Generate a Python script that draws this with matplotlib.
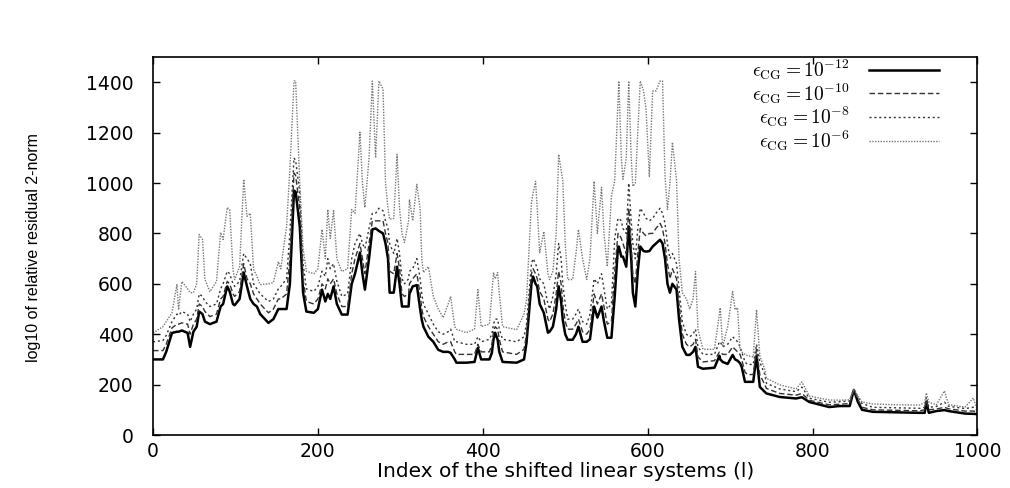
import matplotlib
matplotlib.use("Agg")
import matplotlib.pyplot as plt

# index of the shifted linear system (key points)
idx = [0, 12, 16, 23, 29, 31, 35, 42, 45, 49, 53, 56, 60, 63, 69, 77, 82, 85, 90, 93,
       97, 99, 105, 110, 114, 118, 122, 126, 130, 140, 146, 152, 155, 162, 166, 171, 173, 178, 182, 186,
       195, 200, 205, 209, 212, 215, 219, 223, 229, 236, 241, 245, 251, 254, 257, 262, 266, 270, 274, 279,
       282, 285, 287, 292, 296, 299, 302, 305, 310, 311, 315, 320, 324, 326, 328, 334, 340, 346, 352, 358,
       361, 366, 368, 380, 390, 394, 398, 408, 411, 413, 415, 418, 420, 424, 441, 450, 453, 459, 461, 464,
       466, 469, 474, 479, 481, 485, 489, 492, 495, 497, 500, 503, 509, 513, 516, 521, 526, 530, 535, 539,
       544, 547, 551, 556, 560, 564, 565, 568, 570, 574, 577, 580, 582, 585, 588, 591, 595, 598, 602, 606,
       610, 615, 618, 621, 624, 627, 630, 635, 638, 642, 647, 651, 655, 658, 661, 667, 681, 687, 688, 691,
       697, 703, 706, 709, 712, 714, 718, 721, 728, 732, 736, 742, 744, 760, 780, 787, 796, 820, 833, 845,
       850, 855, 860, 873, 900, 930, 936, 938, 941, 950, 960, 965, 985, 995, 999]

eps12 = [300, 300, 330, 405, 410, 410, 415, 405, 350, 410, 430, 490, 480, 450, 440, 450, 510, 520, 590, 570,
         520, 515, 540, 645, 590, 540, 520, 510, 480, 445, 460, 500, 500, 500, 600, 970, 965, 828, 565, 490,
         485, 500, 577, 530, 560, 540, 590, 520, 478, 478, 600, 640, 724, 640, 577, 700, 816, 820, 810, 800,
         760, 700, 565, 565, 668, 600, 510, 510, 510, 560, 590, 595, 500, 457, 430, 390, 370, 338, 330, 330,
         326, 300, 287, 287, 290, 346, 300, 300, 326, 380, 406, 378, 330, 290, 287, 300, 366, 600, 629, 600,
         590, 520, 485, 406, 410, 430, 500, 590, 530, 457, 400, 378, 378, 400, 430, 370, 370, 380, 510, 466,
         510, 450, 386, 386, 550, 748, 748, 708, 708, 668, 828, 700, 565, 510, 650, 748, 730, 728, 730, 748,
         760, 775, 760, 700, 600, 565, 600, 577, 460, 350, 318, 318, 330, 350, 271, 263, 267, 315, 300, 290,
         282, 318, 300, 295, 285, 271, 211, 211, 211, 315, 191, 171, 165, 151, 145, 150, 131, 111, 115, 115,
         179, 131, 100, 92, 90, 88, 88, 131, 88, 95, 99, 95, 85, 84, 83]

eps10 = [335, 335, 360, 425, 440, 440, 445, 440, 400, 440, 460, 520, 510, 490, 470, 480, 540, 550, 610, 600,
         560, 550, 570, 680, 620, 600, 560, 540, 520, 485, 500, 540, 540, 560, 700, 1040, 1030, 900, 620, 530,
         520, 540, 600, 580, 620, 600, 620, 560, 510, 510, 640, 700, 760, 700, 640, 760, 850, 850, 850, 850,
         800, 760, 650, 640, 720, 660, 560, 550, 560, 600, 620, 640, 560, 500, 470, 430, 400, 370, 360, 370,
         370, 330, 320, 320, 320, 360, 330, 330, 360, 410, 430, 420, 380, 330, 320, 340, 400, 640, 660, 640,
         620, 570, 540, 460, 450, 480, 560, 650, 600, 520, 450, 420, 420, 440, 460, 410, 400, 420, 560, 520,
         560, 510, 440, 450, 650, 800, 800, 780, 760, 720, 900, 760, 640, 600, 720, 820, 800, 790, 800, 800,
         820, 840, 820, 760, 680, 620, 660, 620, 520, 400, 360, 350, 360, 380, 310, 290, 295, 330, 330, 320,
         320, 350, 340, 330, 320, 300, 250, 240, 240, 340, 240, 200, 185, 165, 158, 165, 138, 120, 122, 125,
         180, 140, 110, 100, 98, 96, 100, 140, 100, 103, 110, 104, 95, 95, 92]

eps8 = [370, 375, 395, 450, 480, 475, 490, 480, 450, 480, 500, 560, 550, 530, 510, 520, 580, 600, 650, 640,
        600, 590, 610, 720, 700, 680, 600, 580, 560, 530, 540, 580, 590, 620, 800, 1100, 1090, 960, 680, 580,
        570, 590, 650, 630, 700, 660, 680, 610, 550, 560, 700, 760, 800, 760, 740, 820, 880, 880, 900, 890,
        850, 820, 760, 720, 780, 720, 620, 600, 620, 650, 660, 700, 620, 560, 520, 480, 440, 410, 400, 410,
        420, 370, 370, 360, 360, 390, 370, 380, 400, 440, 460, 460, 420, 380, 370, 390, 440, 680, 700, 680,
        660, 620, 600, 520, 500, 550, 640, 760, 700, 600, 520, 460, 460, 480, 500, 450, 440, 480, 620, 600,
        640, 580, 500, 520, 780, 860, 860, 850, 820, 800, 1000, 850, 760, 700, 820, 900, 880, 860, 850, 860,
        880, 900, 880, 840, 760, 700, 720, 680, 580, 450, 400, 390, 400, 420, 350, 320, 320, 370, 370, 350,
        360, 390, 380, 370, 350, 330, 290, 280, 280, 360, 290, 240, 205, 183, 172, 190, 146, 130, 132, 135,
        182, 150, 125, 110, 108, 106, 110, 150, 110, 113, 130, 114, 105, 110, 100]

eps6 = [405, 430, 450, 485, 597, 497, 609, 580, 565, 565, 600, 796, 776, 617, 569, 609, 804, 776, 903, 895,
        657, 617, 668, 1015, 868, 880, 657, 630, 597, 600, 605, 688, 660, 828, 1055, 1405, 1405, 1000, 740, 650,
        640, 660, 816, 700, 895, 780, 890, 700, 649, 660, 895, 880, 1202, 1000, 903, 1100, 1405, 1100, 1405, 1373,
        1000, 900, 856, 860, 1114, 900, 800, 764, 850, 935, 850, 995, 895, 700, 645, 668, 550, 500, 466, 520,
        550, 430, 420, 406, 420, 577, 430, 440, 560, 645, 620, 645, 560, 430, 418, 480, 537, 923, 960, 1007,
        900, 724, 808, 640, 617, 650, 800, 1114, 1050, 1010, 760, 617, 617, 720, 816, 700, 617, 700, 1007, 800,
        983, 800, 668, 947, 1010, 1320, 1405, 1100, 1015, 1100, 1405, 1100, 987, 1000, 1200, 1405, 1365, 1293, 1027, 1365,
        1365, 1405, 1405, 1027, 895, 1000, 1162, 1010, 700, 565, 540, 500, 540, 649, 420, 340, 340, 480, 505, 350,
        430, 569, 497, 505, 338, 330, 320, 315, 310, 497, 315, 260, 225, 199, 183, 211, 155, 139, 138, 140,
        183, 155, 131, 123, 120, 119, 130, 167, 130, 120, 175, 120, 111, 147, 107]

labels = [r'$\epsilon_{\rm CG}= 10^{-12}$', r'$\epsilon_{\rm CG}= 10^{-10}$',
          r'$\epsilon_{\rm CG}= 10^{-8}$', r'$\epsilon_{\rm CG}= 10^{-6}$']

plt.rcParams['font.family'] = ['DejaVu Sans']
plt.rcParams['mathtext.fontset'] = 'cm'

fig = plt.figure(figsize=(10.10, 4.88), dpi=100)
ax = fig.add_axes([0.1515, 0.1086, 0.8163, 0.7744])

ax.plot(idx, eps12, color='black', lw=1.8, ls='-', label=labels[0])
ax.plot(idx, eps10, color='#333333', lw=1.0, ls=(0, (4, 2)), label=labels[1])
ax.plot(idx, eps8, color='#333333', lw=1.0, ls=(0, (1.5, 2)), label=labels[2])
ax.plot(idx, eps6, color='#777777', lw=1.0, ls=(0, (1, 1)), label=labels[3])

ax.set_xlim(0, 1000)
ax.set_ylim(0, 1500)
ax.set_xticks([0, 200, 400, 600, 800, 1000])
ax.set_yticks([0, 200, 400, 600, 800, 1000, 1200, 1400])
ax.tick_params(direction='in', top=True, right=True, length=5, width=1, labelsize=13.5)
ax.tick_params(axis='x', pad=5)
ax.tick_params(axis='y', pad=14)
for s in ax.spines.values():
    s.set_linewidth(1.2)

ax.set_xlabel('Index of the shifted linear systems (l)', fontsize=14.5, labelpad=1)
ax.set_ylabel('log10 of relative residual 2-norm',
              family=['Liberation Sans', 'DejaVu Sans'], fontsize=11.5)
ax.yaxis.set_label_coords(-0.136, 0.495)

leg = ax.legend(loc='upper right', bbox_to_anchor=(0.97, 1.035), frameon=False,
                markerfirst=False, fontsize=14, handlelength=3.6, handletextpad=1.0,
                labelspacing=-0.05, borderpad=0.2)

fig.savefig('out.png', dpi=100)
